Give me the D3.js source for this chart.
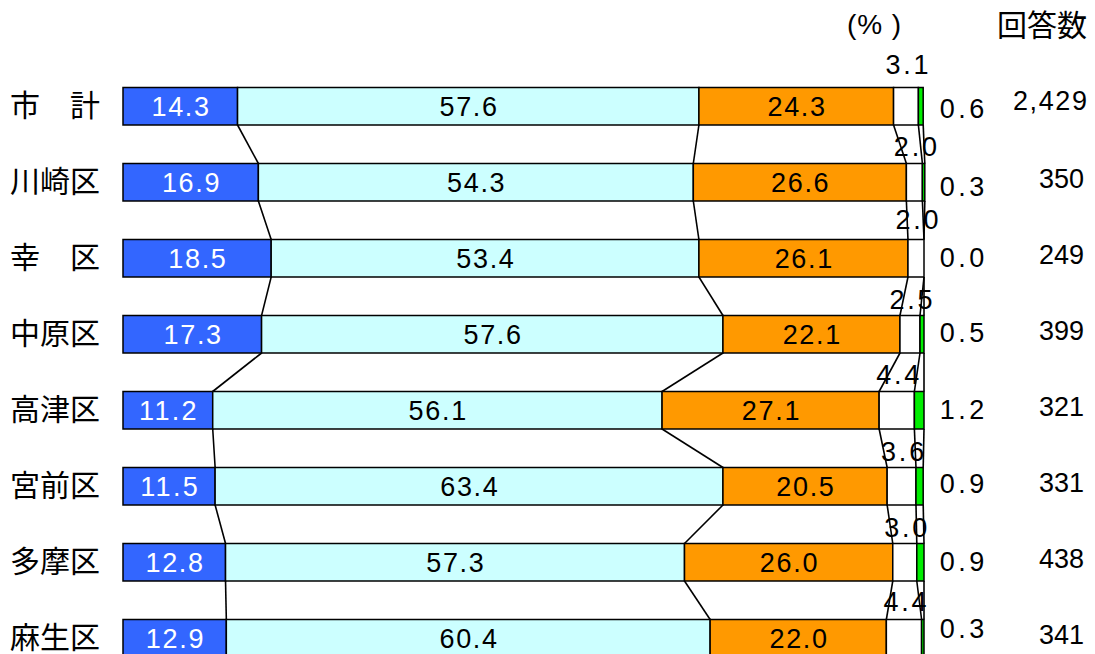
<!DOCTYPE html>
<html>
<head>
<meta charset="utf-8">
<script src="https://cdn.jsdelivr.net/npm/d3@7/dist/d3.min.js"></script>
<style>
  body { margin: 0; background: #fff; }
  svg { display: block; }
</style>
</head>
<body>
<svg id="chart"></svg>
<script>
const categories = ["市　計", "川崎区", "幸　区", "中原区", "高津区", "宮前区", "多摩区", "麻生区"];
const blueVals   = [14.3, 16.9, 18.5, 17.3, 11.2, 11.5, 12.8, 12.9];
const cyanVals   = [57.6, 54.3, 53.4, 57.6, 56.1, 63.4, 57.3, 60.4];
const orangeVals = [24.3, 26.6, 26.1, 22.1, 27.1, 20.5, 26.0, 22.0];
const whiteVals  = [3.1, 2.0, 2.0, 2.5, 4.4, 3.6, 3.0, 4.4];
const greenVals  = [0.6, 0.3, 0.0, 0.5, 1.2, 0.9, 0.9, 0.3];
const counts     = ["2,429", "350", "249", "399", "321", "331", "438", "341"];

// small label nudges seen in the original
const whiteDy = [-14, -8, -11, -7, -8, -7, -7, -9];
const greenDy = [12, 14, 9, 8, 9, 7, 9, 0];

const W = 1095, H = 654;
const svg = d3.select("#chart").attr("width", W).attr("height", H);

const series = [blueVals, cyanVals, orangeVals, whiteVals, greenVals];
const colors = ["#3366ff", "#ccffff", "#ff9900", "#ffffff", "#00ee00"];

const x = d3.scaleLinear().domain([0, 100]).range([123, 924]);
const y = d3.scaleBand().domain(categories)
    .range([68.25, 676.25]).paddingInner(0.5066).paddingOuter(0.2533);
const bw = y.bandwidth();

// stacked rows
const rows = categories.map((c, i) => {
    let acc = 0;
    const segs = series.map((s, k) => {
        const seg = { k, v: s[i], x0: acc, x1: acc + s[i] };
        acc += s[i];
        return seg;
    });
    return { cat: c, i, segs };
});

const numFont = "'Liberation Sans', Arial, sans-serif";
const cjkFont = "'Noto Sans CJK JP', sans-serif";

// connecting lines between rows
const links = [];
for (let i = 0; i < rows.length - 1; i++) {
    rows[i].segs.forEach((s, k) => {
        links.push({
            x1: x(s.x1), y1: y(rows[i].cat) + bw,
            x2: x(rows[i + 1].segs[k].x1), y2: y(rows[i + 1].cat)
        });
    });
}
svg.append("g")
    .selectAll("line")
    .data(links)
    .enter()
    .append("line")
    .attr("x1", d => d.x1).attr("y1", d => d.y1)
    .attr("x2", d => d.x2).attr("y2", d => d.y2)
    .attr("stroke", "#000")
    .attr("stroke-width", 1.6);

// bars
const rowG = svg.append("g")
    .selectAll("g")
    .data(rows)
    .enter()
    .append("g")
    .attr("transform", d => `translate(0,${y(d.cat)})`);

rowG.selectAll("rect")
    .data(d => d.segs)
    .enter()
    .append("rect")
    .attr("x", d => x(d.x0))
    .attr("y", 0)
    .attr("width", d => x(d.x1) - x(d.x0))
    .attr("height", bw)
    .attr("fill", d => colors[d.k])
    .attr("stroke", "#000")
    .attr("stroke-width", 1.5);

// labels inside blue / cyan / orange
const cw = 14.4;
rowG.selectAll("text.inside")
    .data(d => d.segs.filter(s => s.k < 3))
    .enter()
    .append("text")
    .attr("class", "inside")
    .attr("x", d => (x(d.x0) + x(d.x1)) / 2)
    .attr("y", bw / 2 + 9.5)
    .attr("text-anchor", "middle")
    .attr("font-family", numFont)
    .attr("font-size", 27)
    .attr("fill", d => d.k === 0 ? "#fff" : "#000")
    .attr("textLength", d => d.v.toFixed(1).length * cw)
    .attr("lengthAdjust", "spacing")
    .text(d => d.v.toFixed(1));

// white segment values above the bar
rowG.append("text")
    .attr("x", d => (x(d.segs[3].x0) + x(d.segs[3].x1)) / 2 + 1)
    .attr("y", d => whiteDy[d.i])
    .attr("text-anchor", "middle")
    .attr("font-family", numFont)
    .attr("font-size", 27)
    .attr("textLength", 3 * cw)
    .attr("lengthAdjust", "spacing")
    .text(d => d.segs[3].v.toFixed(1));

// green segment values at right
rowG.append("text")
    .attr("x", 962)
    .attr("y", d => bw / 2 + greenDy[d.i])
    .attr("text-anchor", "middle")
    .attr("font-family", numFont)
    .attr("font-size", 27)
    .attr("textLength", 3 * 14.8)
    .attr("lengthAdjust", "spacing")
    .text(d => d.segs[4].v.toFixed(1));

// counts
rowG.append("text")
    .attr("x", d => d.i === 0 ? 1087 : 1084)
    .attr("y", d => bw / 2 + (d.i === 0 ? 4 : 6))
    .attr("text-anchor", "end")
    .attr("font-family", numFont)
    .attr("font-size", 27)
    .each(function(d) {
        if (counts[d.i].length > 3) {
            d3.select(this).attr("textLength", 74).attr("lengthAdjust", "spacing");
        }
    })
    .text(d => counts[d.i]);

// category labels
rowG.append("text")
    .attr("x", 10)
    .attr("y", bw / 2 + 10)
    .attr("font-family", cjkFont)
    .attr("font-size", 30)
    .attr("fill", "#000")
    .text(d => d.cat);

// header
svg.append("text")
    .attr("x", 847).attr("y", 34)
    .attr("font-family", numFont)
    .attr("font-size", 28)
    .attr("textLength", 54)
    .attr("lengthAdjust", "spacing")
    .text("(% )");

svg.append("text")
    .attr("x", 1087).attr("y", 36)
    .attr("text-anchor", "end")
    .attr("font-family", cjkFont)
    .attr("font-size", 30)
    .text("回答数");
</script>
</body>
</html>
